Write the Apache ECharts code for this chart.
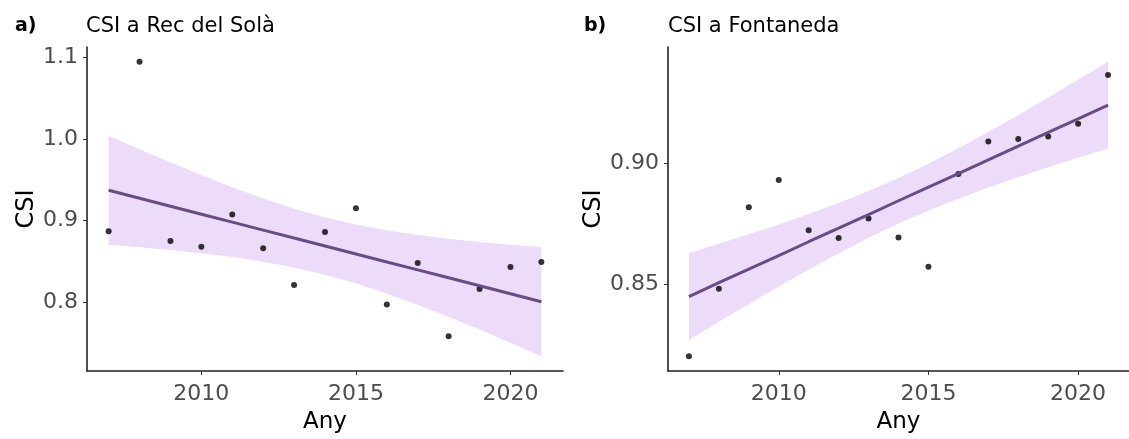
<!DOCTYPE html>
<html>
<head>
<meta charset="utf-8">
<script src="https://cdn.jsdelivr.net/npm/echarts@6/dist/echarts.min.js"></script>
<style>
html,body{margin:0;padding:0;background:#fff;}
#chart{width:1129px;height:439px;}
</style>
</head>
<body>
<div id="chart"></div>
<script>
// ---- data ----
const years = [2007,2008,2009,2010,2011,2012,2013,2014,2015,2016,2017,2018,2019,2020,2021];

// Panel a) CSI a Rec del Solà
const recCSI   = [0.887,1.095,0.875,0.868,0.9075,0.866,0.821,0.886,0.915,0.797,0.848,0.758,0.816,0.843,0.849];
const recFit   = [0.9372,0.9274,0.9176,0.9078,0.8981,0.8883,0.8785,0.8688,0.8590,0.8492,0.8395,0.8297,0.8199,0.8101,0.8004];
const recUpper = [1.0042,0.9876,0.9714,0.9558,0.9409,0.9271,0.9146,0.9040,0.8951,0.8880,0.8823,0.8777,0.8737,0.8703,0.8674];
const recLower = [0.8702,0.8672,0.8638,0.8598,0.8553,0.8495,0.8424,0.8336,0.8229,0.8104,0.7967,0.7817,0.7661,0.7499,0.7334];

// Panel b) CSI a Fontaneda
const fonCSI   = [0.8205,0.8483,0.8819,0.8932,0.8724,0.8692,0.8773,0.8694,0.8574,0.8956,0.9090,0.9101,0.9111,0.9164,0.9365];
const fonFit   = [0.8451,0.8508,0.8564,0.8620,0.8677,0.8733,0.8789,0.8846,0.8902,0.8958,0.9015,0.9071,0.9128,0.9184,0.9240];
const fonUpper = [0.8630,0.8669,0.8708,0.8748,0.8791,0.8837,0.8886,0.8940,0.8999,0.9062,0.9129,0.9199,0.9272,0.9345,0.9419];
const fonLower = [0.8272,0.8347,0.8420,0.8492,0.8563,0.8629,0.8693,0.8752,0.8806,0.8854,0.8901,0.8943,0.8984,0.9023,0.9061];

const xTicks = [2010,2015,2020];
const recYTicks = [0.8,0.9,1.0,1.1];
const fonYTicks = [0.85,0.90];

const titles = ['CSI a Rec del Solà','CSI a Fontaneda'];
const tags = ['a)','b)'];
const xName = 'Any';
const yName = 'CSI';

// ---- styles ----
const FONT = 'DejaVu Sans';
const bandColor = 'rgb(211,173,240)';
const lineColor = '#6a4b84';

function pairs(xs, ys){ return xs.map((x,i)=>[x, ys[i]]); }

function bandSeries(idx, lower, upper){
  return {
    type:'custom', xAxisIndex:idx, yAxisIndex:idx, silent:true,
    data: years.map((x,i)=>[x, lower[i], upper[i]]),
    encode:{x:0, y:[1,2]},
    renderItem:function(params, api){
      if(params.dataIndex !== 0) return null;
      const pts = [];
      for(let i=0;i<years.length;i++) pts.push(api.coord([years[i], upper[i]]));
      for(let i=years.length-1;i>=0;i--) pts.push(api.coord([years[i], lower[i]]));
      return {type:'polygon', shape:{points:pts}, style:{fill:bandColor, opacity:0.43}};
    }
  };
}

function xAxis(idx){
  return {
    gridIndex:idx, type:'value', min:2006.3, max:2021.7,
    name:xName, nameLocation:'middle', nameGap:40,
    nameTextStyle:{fontFamily:FONT, fontSize:23, color:'#000'},
    axisLine:{show:true, lineStyle:{color:'#222', width:1.6}},
    axisTick:{show:true, length:4, lineStyle:{color:'#333', width:1}, customValues:xTicks},
    axisLabel:{fontFamily:FONT, fontSize:22, color:'#4d4d4d', margin:12, customValues:xTicks,
      formatter:v=>String(v)},
    splitLine:{show:false}
  };
}
function yAxis(idx, min, max, ticks, digits, gap){
  return {
    gridIndex:idx, type:'value', min:min, max:max,
    name:yName, nameLocation:'middle', nameGap:gap, nameRotate:90,
    nameTextStyle:{fontFamily:FONT, fontSize:24, color:'#000'},
    axisLine:{show:true, lineStyle:{color:'#222', width:1.6}},
    axisTick:{show:true, length:4, lineStyle:{color:'#333', width:1}, customValues:ticks},
    axisLabel:{fontFamily:FONT, fontSize:22, color:'#4d4d4d', margin:9, customValues:ticks,
      formatter:v=>Number(v).toFixed(digits)},
    splitLine:{show:false}
  };
}

const chart = echarts.init(document.getElementById('chart'), null, {renderer:'canvas'});
chart.setOption({
  backgroundColor:'#fff',
  animation:false,
  title:[
    {text:tags[0], left:15, top:17, padding:0, textStyle:{fontFamily:FONT, fontSize:19, fontWeight:'bold', color:'#000'}},
    {text:titles[0], left:86, top:16, padding:0, textStyle:{fontFamily:FONT, fontSize:21, fontWeight:'normal', color:'#000'}},
    {text:tags[1], left:584, top:17, padding:0, textStyle:{fontFamily:FONT, fontSize:19, fontWeight:'bold', color:'#000'}},
    {text:titles[1], left:668, top:16, padding:0, textStyle:{fontFamily:FONT, fontSize:21, fontWeight:'normal', color:'#000'}}
  ],
  grid:[
    {left:87, top:47, width:476, height:331},
    {left:668, top:47, width:462, height:331}
  ],
  xAxis:[xAxis(0), xAxis(1)],
  yAxis:[
    yAxis(0, 0.7153, 1.1131, recYTicks, 1, 36),
    yAxis(1, 0.8144, 0.9480, fonYTicks, 2, 53)
  ],
  series:[
    {type:'scatter', xAxisIndex:0, yAxisIndex:0, data:pairs(years, recCSI), symbol:'circle', symbolSize:6,
      itemStyle:{color:'#000'}},
    bandSeries(0, recLower, recUpper),
    {type:'line', xAxisIndex:0, yAxisIndex:0, data:pairs(years, recFit), symbol:'none',
      lineStyle:{color:lineColor, width:3}},
    {type:'scatter', xAxisIndex:1, yAxisIndex:1, data:pairs(years, fonCSI), symbol:'circle', symbolSize:6,
      itemStyle:{color:'#000'}},
    bandSeries(1, fonLower, fonUpper),
    {type:'line', xAxisIndex:1, yAxisIndex:1, data:pairs(years, fonFit), symbol:'none',
      lineStyle:{color:lineColor, width:3}}
  ]
});
</script>
</body>
</html>
